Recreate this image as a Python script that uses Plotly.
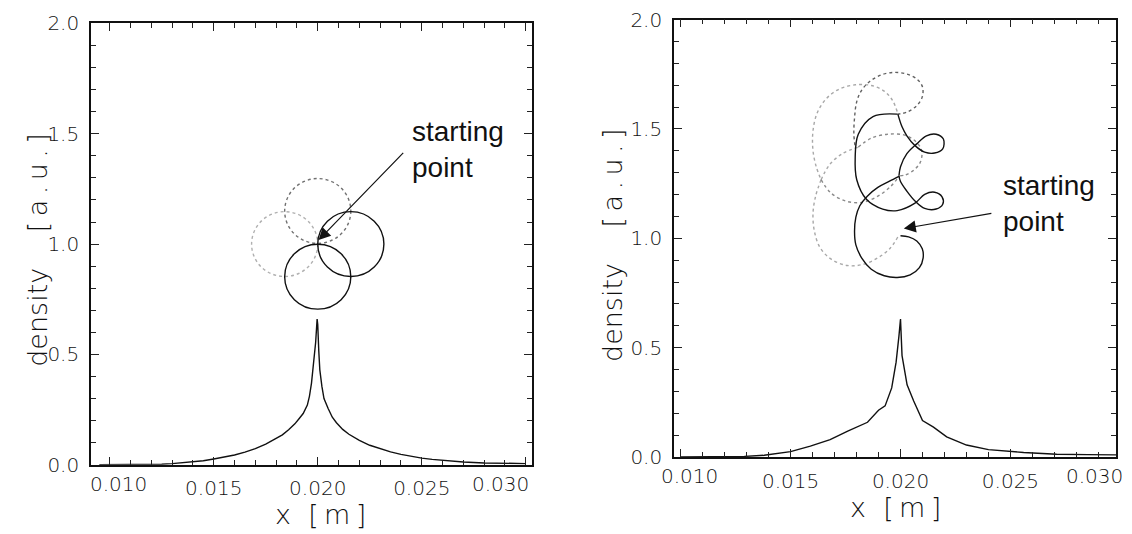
import plotly.graph_objects as go

# ---------------- data ----------------
# density profiles
left_x = [0.0095, 0.0110, 0.0125, 0.0130, 0.0135, 0.0140, 0.0145, 0.0150, 0.0155, 0.0160,
          0.0165, 0.0170, 0.0175, 0.0180, 0.0183, 0.0186, 0.0189, 0.0191, 0.0193, 0.0195,
          0.0196, 0.0197, 0.0198, 0.0199, 0.01997, 0.0200, 0.02005, 0.0201, 0.0202, 0.0203,
          0.0205, 0.0207, 0.0209, 0.0212, 0.0215, 0.0220, 0.0225, 0.0230, 0.0235, 0.0240,
          0.0245, 0.0250, 0.0255, 0.0260, 0.0265, 0.0270, 0.0280, 0.0290, 0.0300]
left_y = [0.000, 0.000, 0.002, 0.005, 0.009, 0.014, 0.018, 0.026, 0.034, 0.044,
          0.057, 0.073, 0.093, 0.118, 0.135, 0.158, 0.185, 0.208, 0.232, 0.270,
          0.310, 0.370, 0.460, 0.555, 0.660, 0.635, 0.515, 0.430, 0.355, 0.300,
          0.255, 0.215, 0.190, 0.160, 0.138, 0.110, 0.088, 0.072, 0.058, 0.047,
          0.038, 0.030, 0.024, 0.019, 0.015, 0.012, 0.008, 0.006, 0.005]

right_x = [0.0100, 0.0115, 0.0129, 0.0138, 0.0150, 0.0159, 0.0168, 0.0176, 0.0185, 0.0190,
           0.0193, 0.0196, 0.0198, 0.01993, 0.0200, 0.02007, 0.0203, 0.0206, 0.0210, 0.0215,
           0.0221, 0.0230, 0.0240, 0.0256, 0.0271, 0.0285, 0.0298]
right_y = [0.000, 0.000, 0.003, 0.008, 0.025, 0.050, 0.080, 0.119, 0.159, 0.214,
           0.234, 0.316, 0.434, 0.554, 0.631, 0.464, 0.330, 0.256, 0.167, 0.137,
           0.092, 0.055, 0.034, 0.021, 0.013, 0.011, 0.010]

# left panel orbit: four circles through the starting point
circ_cx = [0.02000, 0.01841, 0.02159, 0.02000]
circ_cy = [1.150, 1.000, 1.000, 0.852]
circ_rx = 0.00159
circ_ry = 0.147
circ_color = ["#707070", "#b0b0b0", "#111111", "#111111"]
circ_dash = ["dot", "dot", "solid", "solid"]

# right panel orbit, traced segments
g1_x = [0.01985, 0.01963, 0.01926, 0.01867, 0.01794, 0.01720, 0.01661, 0.01621, 0.01602, 0.01602, 0.01617, 0.01639]
g1_y = [1.580, 1.632, 1.673, 1.699, 1.702, 1.682, 1.637, 1.573, 1.491, 1.402, 1.327, 1.268]
g2_x = [0.01639, 0.01614, 0.01602, 0.01609, 0.01634, 0.01683, 0.01757, 0.01830, 0.01897, 0.01953, 0.01988]
g2_y = [1.268, 1.193, 1.112, 1.030, 0.958, 0.906, 0.876, 0.881, 0.911, 0.955, 1.007]
g3_x = [0.01808, 0.01867, 0.01941, 0.02015, 0.02066, 0.02096, 0.02091, 0.02062, 0.02022, 0.01993]
g3_y = [1.417, 1.458, 1.476, 1.473, 1.446, 1.402, 1.350, 1.313, 1.290, 1.286]
g4_x = [0.01639, 0.01676, 0.01735, 0.01808]
g4_y = [1.268, 1.335, 1.387, 1.417]
g5_x = [0.01639, 0.01683, 0.01749, 0.01823, 0.01897, 0.01956, 0.01993]
g5_y = [1.268, 1.208, 1.171, 1.164, 1.193, 1.238, 1.283]
d1_x = [0.01985, 0.02029, 0.02074, 0.02099, 0.02100, 0.02074, 0.02029, 0.01971, 0.01912, 0.01860,
        0.01823, 0.01801, 0.01791, 0.01788, 0.01794]
d1_y = [1.568, 1.577, 1.607, 1.647, 1.692, 1.729, 1.751, 1.759, 1.747, 1.717,
        1.677, 1.625, 1.551, 1.476, 1.417]
b1_x = [0.02000, 0.02037, 0.02074, 0.02099, 0.02103, 0.02086, 0.02044, 0.01985, 0.01926, 0.01867,
        0.01823, 0.01797, 0.01791, 0.01797, 0.01815, 0.01849, 0.01897, 0.01948, 0.01993]
b1_y = [1.012, 1.007, 0.988, 0.952, 0.911, 0.866, 0.833, 0.821, 0.829, 0.859,
        0.911, 0.970, 1.030, 1.097, 1.149, 1.193, 1.233, 1.260, 1.283]
b2_x = [0.01985, 0.01875, 0.01808, 0.01794, 0.01801, 0.01845, 0.01919, 0.01985, 0.02066, 0.02110,
        0.02155, 0.02189, 0.02192, 0.02162, 0.02110, 0.02066, 0.02029, 0.02000, 0.01993]
b2_y = [1.568, 1.557, 1.476, 1.372, 1.268, 1.179, 1.134, 1.127, 1.161, 1.201,
        1.211, 1.190, 1.156, 1.134, 1.137, 1.171, 1.216, 1.260, 1.286]
b3_x = [0.01993, 0.02000, 0.02029, 0.02074, 0.02118, 0.02162, 0.02195, 0.02192, 0.02155, 0.02110,
        0.02066, 0.02029, 0.02007, 0.01988]
b3_y = [1.286, 1.327, 1.387, 1.432, 1.469, 1.476, 1.454, 1.409, 1.390, 1.394,
        1.424, 1.469, 1.510, 1.568]

# tick labels
y_tickvals = [0.0, 0.5, 1.0, 1.5, 2.0]
y_ticktext = ["0.0", "0.5", "1.0", "1.5", "2.0"]
x_tickvals = [0.010, 0.015, 0.020, 0.025, 0.030]
x_ticktext = ["", "0.015", "0.020", "0.025", ""]
x_edge_text = ["0.010", "0.030"]
x_edge_pos = [0.0104, 0.0288]

left_xrange = [0.0091, 0.0303]
right_xrange = [0.0097, 0.0298]

# ---------------- figure ----------------
W, H = 1132, 534
fig = go.Figure()

line_k = dict(color="#111111", width=1.4)
fig.add_trace(go.Scatter(x=left_x, y=left_y, mode="lines", line=line_k, xaxis="x", yaxis="y", showlegend=False))
fig.add_trace(go.Scatter(x=right_x, y=right_y, mode="lines", line=line_k, xaxis="x2", yaxis="y2", showlegend=False))

segs = [
    (g1_x, g1_y, "#a8a8a8", "dot"), (g2_x, g2_y, "#a8a8a8", "dot"), (g3_x, g3_y, "#8a8a8a", "dot"),
    (g4_x, g4_y, "#a8a8a8", "dot"), (g5_x, g5_y, "#8a8a8a", "dot"), (d1_x, d1_y, "#606060", "dot"),
    (b1_x, b1_y, "#111111", "solid"), (b2_x, b2_y, "#111111", "solid"), (b3_x, b3_y, "#111111", "solid"),
]
for sx, sy, col, dash in segs:
    fig.add_trace(go.Scatter(x=sx, y=sy, mode="lines", line=dict(color=col, width=1.4, dash=dash, shape="spline"),
                             xaxis="x2", yaxis="y2", showlegend=False))

shapes = []
for cx, cy, col, dash in zip(circ_cx, circ_cy, circ_color, circ_dash):
    shapes.append(dict(type="circle", xref="x", yref="y", x0=cx - circ_rx, x1=cx + circ_rx,
                       y0=cy - circ_ry, y1=cy + circ_ry, line=dict(color=col, width=1.4, dash=dash)))

tickfont = dict(family="DejaVu Sans, sans-serif", size=20, color="#111111", weight=300)
titlefont = dict(family="DejaVu Sans, sans-serif", size=27, color="#111111", weight=300)
textfont = dict(family="Liberation Sans, Arial, sans-serif", size=28, color="#111111")

def xax(domain, anchor, rng):
    return dict(domain=domain, anchor=anchor, range=rng, tickvals=x_tickvals, ticktext=x_ticktext,
                ticks="inside", ticklen=8, tickwidth=1.2, tickcolor="#222", showline=True, linecolor="#111",
                linewidth=1.6, mirror="ticks", showgrid=False, zeroline=False, tickfont=tickfont,
                ticklabelstandoff=5,
                minor=dict(dtick=0.001, tick0=0.010, ticks="inside", ticklen=5, tickwidth=1.1, tickcolor="#222"))

def yax(domain, anchor):
    return dict(domain=domain, anchor=anchor, range=[0.0, 2.0], tickvals=y_tickvals, ticktext=y_ticktext,
                ticks="inside", ticklen=8, tickwidth=1.2, tickcolor="#222", showline=True, linecolor="#111",
                linewidth=1.6, mirror="ticks", showgrid=False, zeroline=False, tickfont=tickfont,
                ticklabelstandoff=6,
                minor=dict(dtick=0.1, tick0=0.0, ticks="inside", ticklen=5, tickwidth=1.1, tickcolor="#222"))

lx0, lx1, ly0, ly1 = 91 / W, 532 / W, (H - 474) / H, (H - 12) / H
rx0, rx1, ry0, ry1 = 674 / W, 1116 / W, (H - 466) / H, (H - 8) / H

annotations = []
# edge x tick labels (drawn inward of the frame as in the original)
for txt, xv in zip(x_edge_text, x_edge_pos):
    annotations.append(dict(x=xv, y=ly0, xref="x", yref="paper", yanchor="top", yshift=-5, text=txt,
                            showarrow=False, font=tickfont))
    annotations.append(dict(x=xv, y=ry0, xref="x2", yref="paper", yanchor="top", yshift=-5, text=txt,
                            showarrow=False, font=tickfont))
# axis titles
ytitle = "density\u2003\u00a0[\u2009a\u2009.\u2009u\u2009.\u2009]"
xtitle = "x\u00a0\u00a0[\u2009m\u2009]"
annotations += [
    dict(x=320 / W, y=(H - 526) / H, xref="paper", yref="paper", xanchor="center", yanchor="middle",
         text=xtitle, showarrow=False, font=titlefont),
    dict(x=(rx0 + rx1) / 2, y=(H - 519) / H, xref="paper", yref="paper", xanchor="center", yanchor="middle",
         text=xtitle, showarrow=False, font=titlefont),
    dict(x=38 / W, y=(H - 250) / H, xref="paper", yref="paper", xanchor="center", yanchor="middle",
         text=ytitle, textangle=-90, showarrow=False, font=titlefont),
    dict(x=613 / W, y=(H - 245) / H, xref="paper", yref="paper", xanchor="center", yanchor="middle",
         text=ytitle, textangle=-90, showarrow=False, font=titlefont),
]
# "starting point" labels with arrows
annotations += [
    dict(x=0.02004, y=1.018, xref="x", yref="y", ax=0.02418, ay=1.420, axref="x", ayref="y",
         showarrow=True, arrowhead=2, arrowsize=2.0, arrowwidth=1.2, arrowcolor="#111", text=""),
    dict(x=0.02442, y=1.427, xref="x", yref="y", xanchor="left", yanchor="middle", align="left",
         text="starting<br>point", showarrow=False, font=textfont),
    dict(x=0.02015, y=1.045, xref="x2", yref="y2", ax=0.02420, ay=1.115, axref="x2", ayref="y2",
         showarrow=True, arrowhead=2, arrowsize=2.0, arrowwidth=1.2, arrowcolor="#111", text=""),
    dict(x=0.02455, y=1.160, xref="x2", yref="y2", xanchor="left", yanchor="middle", align="left",
         text="starting<br>point", showarrow=False, font=textfont),
]

fig.update_layout(
    width=W, height=H, margin=dict(l=0, r=0, t=0, b=0), paper_bgcolor="white", plot_bgcolor="white",
    xaxis=xax([lx0, lx1], "y", left_xrange), yaxis=yax([ly0, ly1], "x"),
    xaxis2=xax([rx0, rx1], "y2", right_xrange), yaxis2=yax([ry0, ry1], "x2"),
    shapes=shapes, annotations=annotations, showlegend=False,
)

fig.write_html("out.html")
